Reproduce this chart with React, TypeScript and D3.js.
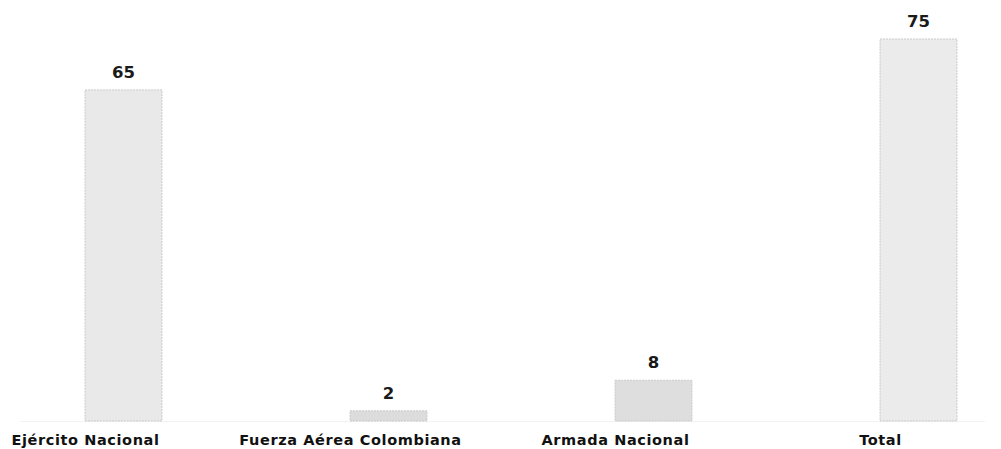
import React from "react";
import * as d3 from "d3";

const categories = ["Ejército Nacional", "Fuerza Aérea Colombiana", "Armada Nacional", "Total"];
const values = [65, 2, 8, 75];

// layout: the category labels sit a little left of their bars in the reference
const labelDx = -38;
const barFills = ["#e9e9ea", "#dcdcdc", "#dededf", "#ebebec"];

const W = 1001;
const H = 449;

export default function App() {
  const x = d3.scaleBand<string>().domain(categories).range([-9, 1051]).paddingInner(0.71).paddingOuter(0.355);
  const y = d3.scaleLinear().domain([0, 75]).range([421, 39]);
  return (
    <svg width={W} height={H} style={{ position: "absolute", left: 0, top: 0, background: "#fff" }}>
      <line x1={20} x2={985} y1={y(0) + 0.5} y2={y(0) + 0.5} stroke="#f2f2f2" strokeWidth={1} />
      {categories.map((c, i) => {
        const bx = x(c)!;
        const bw = x.bandwidth();
        const cx = bx + bw / 2;
        return (
          <g key={c}>
            <rect x={bx} y={y(values[i])} width={bw} height={y(0) - y(values[i])} fill={barFills[i]} stroke="#c9c9c9" strokeWidth={1} strokeDasharray="2,1" />
            <text x={cx} y={y(values[i]) - 12} textAnchor="middle" fontFamily="DejaVu Sans" fontWeight="bold" fontSize={16.5} fill="#1a1a1a">
              {values[i]}
            </text>
            <text x={cx + labelDx} y={445} textAnchor="middle" fontFamily="DejaVu Sans" fontWeight="bold" fontSize={14.5} letterSpacing={0.6} fill="#111">
              {c}
            </text>
          </g>
        );
      })}
    </svg>
  );
}
